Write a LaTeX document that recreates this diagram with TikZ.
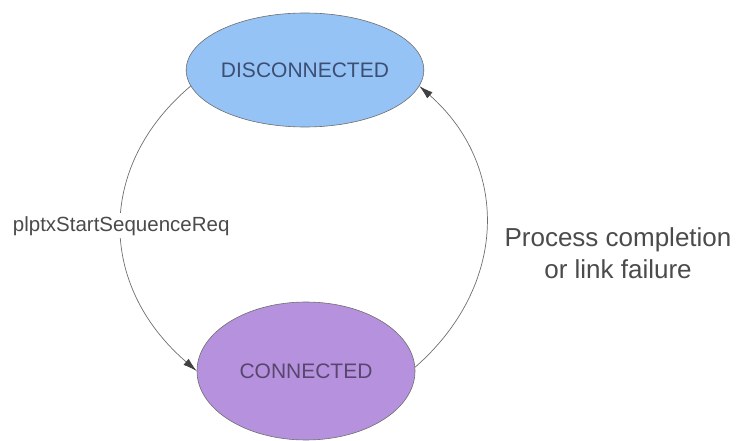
\documentclass[tikz,border=0pt]{standalone}
\usepackage{fontspec}
\setmainfont{Liberation Sans}
\usetikzlibrary{arrows.meta,shapes.geometric}
\definecolor{discblue}{RGB}{150,195,245}
\definecolor{disctext}{RGB}{60,78,115}
\definecolor{connpurple}{RGB}{182,146,222}
\definecolor{conntext}{RGB}{88,70,110}
\definecolor{linegray}{RGB}{110,110,110}
\definecolor{tipgray}{RGB}{65,65,65}
\definecolor{labelgray}{RGB}{75,75,75}
\tikzset{
  state/.style={ellipse, draw=linegray, line width=0.6pt, inner sep=0pt, font=\fontsize{21}{25}\selectfont},
  trans/.style={draw=linegray, line width=0.7pt, -{Latex[length=14pt,width=8pt,color=tipgray]}},
  translabel/.style={text=labelgray, fill=white, inner sep=3pt, font=\fontsize{20.5}{24}\selectfont}
}
\begin{document}
\begin{tikzpicture}[x=1pt,y=-1pt]
  \useasboundingbox (0,0) rectangle (737,441);
  \node[state, fill=discblue, text=disctext, minimum width=216pt, minimum height=114pt] (disc) at (305,70) {DISCONNECTED};
  \node[state, fill=connpurple, text=conntext, minimum width=218pt, minimum height=138pt] (conn) at (306,371) {CONNECTED};
  \draw[trans] (disc.188) .. controls (97,165) and (97,285) .. (conn.180) node[translabel, midway] (start) {plptxStartSequenceReq};
  \draw[trans] (conn.2) .. controls (509,285) and (509,165) .. (disc.352);
  \node[text=labelgray, align=center, font=\fontsize{26}{32}\selectfont] (done) at (618,253) {Process completion\\or link failure};
\end{tikzpicture}
\end{document}
